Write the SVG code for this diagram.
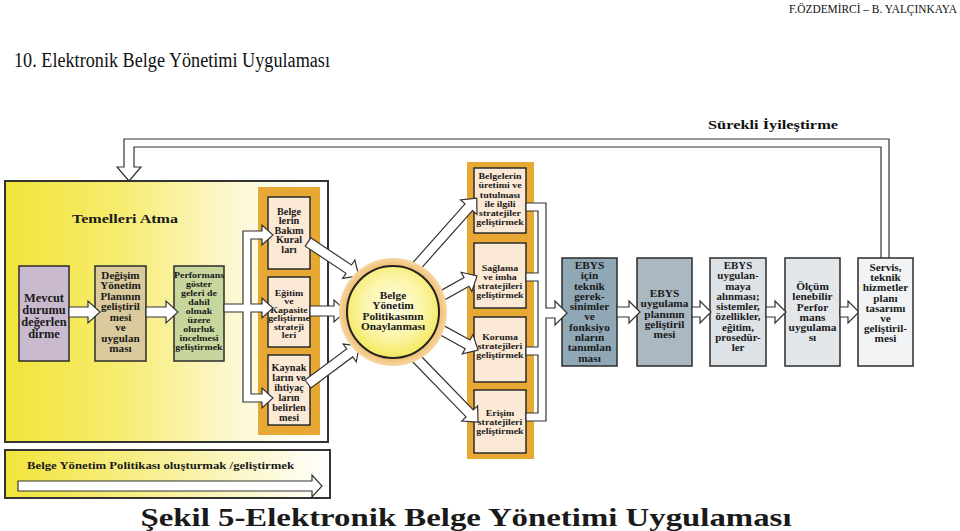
<svg xmlns="http://www.w3.org/2000/svg" width="960" height="531" viewBox="0 0 960 531">
<defs>
<style>
.t{font-family:"Liberation Serif","DejaVu Serif",serif;font-weight:bold;text-anchor:middle;fill:#1a1a1a}
.hd{font-family:"Liberation Serif","DejaVu Serif",serif;fill:#111}
.box{stroke:#2b2b2b;stroke-width:1.5}
.arr{fill:#fff;stroke:#333;stroke-width:1.2;stroke-linejoin:miter}
.col{fill:#e8a834}
.peach{fill:#fbe9d6}
</style>
<linearGradient id="yel" x1="0" y1="0" x2="1" y2="0">
<stop offset="0" stop-color="#f2e43a"/>
<stop offset="0.35" stop-color="#f6ec6e"/>
<stop offset="0.75" stop-color="#fdf9dc"/>
<stop offset="1" stop-color="#ffffff"/>
</linearGradient>
<linearGradient id="yel2" x1="0" y1="0" x2="1" y2="0">
<stop offset="0" stop-color="#f2e43a"/>
<stop offset="0.5" stop-color="#f8f09a"/>
<stop offset="1" stop-color="#ffffff"/>
</linearGradient>
<radialGradient id="circ" cx="0.5" cy="0.45" r="0.55">
<stop offset="0" stop-color="#fffde6"/>
<stop offset="0.6" stop-color="#fbf5a8"/>
<stop offset="1" stop-color="#f3e85e"/>
</radialGradient>
<radialGradient id="halo" cx="0.5" cy="0.5" r="0.5">
<stop offset="0.8" stop-color="#f0b45a"/>
<stop offset="1" stop-color="#f6d7a6"/>
</radialGradient>
</defs>

<rect width="960" height="531" fill="#fff"/>

<!-- headers -->
<text class="hd" x="957" y="13" font-size="11.5" text-anchor="end" textLength="168" lengthAdjust="spacingAndGlyphs">F.ÖZDEMİRCİ – B. YALÇINKAYA</text>
<text class="hd" x="14" y="67" font-size="20" textLength="316" lengthAdjust="spacingAndGlyphs">10. Elektronik Belge Yönetimi Uygulaması</text>
<text class="hd" x="708" y="129" font-size="13" font-weight="bold" textLength="130" lengthAdjust="spacingAndGlyphs">Sürekli İyileştirme</text>

<!-- foundation area -->
<g id="temeller">
<rect x="5" y="181" width="323" height="261" fill="url(#yel)" stroke="#333" stroke-width="2"/>
<text class="t" x="125" y="223" font-size="13" textLength="106" lengthAdjust="spacingAndGlyphs">Temelleri Atma</text>
</g>

<g id="bottom-box">
<rect x="5" y="450" width="325" height="48" fill="url(#yel2)" stroke="#333" stroke-width="2"/>
<text class="t" x="27" y="469" font-size="10" style="text-anchor:start" textLength="267" lengthAdjust="spacingAndGlyphs">Belge Yönetim Politikası oluşturmak /geliştirmek</text>
</g>

<!-- orange columns -->
<rect class="col" x="258" y="187" width="62" height="248"/>
<rect class="col" x="467" y="162" width="67" height="297"/>

<g id="mevcut">
<rect class="box" x="19" y="266" width="50" height="95" fill="#c9bad0"/>
<text class="t" font-size="11.5" transform="matrix(1.08,0,0,1,-3.52,0)"><tspan x="44" y="302">Mevcut</tspan><tspan x="44" y="314">durumu</tspan><tspan x="44" y="326">değerlen</tspan><tspan x="44" y="338">dirme</tspan></text>
</g>
<g id="degisim">
<rect class="box" x="95" y="266" width="51" height="95" fill="#d9c99c"/>
<text class="t" font-size="10.3" transform="matrix(1.08,0,0,1,-9.64,0)"><tspan x="120.5" y="279">Değişim</tspan><tspan x="120.5" y="289.5">Yönetim</tspan><tspan x="120.5" y="300">Planının</tspan><tspan x="120.5" y="310.5">geliştiril</tspan><tspan x="120.5" y="321">mesi</tspan><tspan x="120.5" y="331.5">ve</tspan><tspan x="120.5" y="342">uygulan</tspan><tspan x="120.5" y="352.5">ması</tspan></text>
</g>
<g id="performans">
<rect class="box" x="174" y="266" width="50" height="95" fill="#c6d69c"/>
<text class="t" font-size="9" transform="matrix(1.1,0,0,1,-19.9,0)"><tspan x="199" y="278">Performans</tspan><tspan x="199" y="287">göster</tspan><tspan x="199" y="296">geleri de</tspan><tspan x="199" y="305">dahil</tspan><tspan x="199" y="314">olmak</tspan><tspan x="199" y="323">üzere</tspan><tspan x="199" y="332">olurluk</tspan><tspan x="199" y="341">incelmesi</tspan><tspan x="199" y="350">geliştirmek</tspan></text>
</g>

<g id="bakim">
<rect class="box peach" x="268" y="197" width="42" height="72"/>
<text class="t" font-size="9.5" transform="matrix(1.08,0,0,1,-23.12,0)"><tspan x="289" y="215">Belge</tspan><tspan x="289" y="224.5">lerin</tspan><tspan x="289" y="234">Bakım</tspan><tspan x="289" y="243.5">Kural</tspan><tspan x="289" y="253">ları</tspan></text>
</g>
<g id="egitim">
<rect class="box peach" x="268" y="277" width="42" height="70"/>
<text class="t" font-size="8.6" transform="matrix(1.15,0,0,1,-43.35,0)"><tspan x="289" y="296">Eğitim</tspan><tspan x="289" y="304.5">ve</tspan><tspan x="289" y="313">Kapasite</tspan><tspan x="289" y="321.5">geliştirme</tspan><tspan x="289" y="330">strateji</tspan><tspan x="289" y="338.5">leri</tspan></text>
</g>
<g id="kaynak">
<rect class="box peach" x="268" y="355" width="42" height="70"/>
<text class="t" font-size="9.8" transform="matrix(1.05,0,0,1,-14.45,0)"><tspan x="289" y="371">Kaynak</tspan><tspan x="289" y="381">ların ve</tspan><tspan x="289" y="391">ihtiyaç</tspan><tspan x="289" y="401">ların</tspan><tspan x="289" y="411">belirlen</tspan><tspan x="289" y="421">mesi</tspan></text>
</g>

<g id="uretim">
<rect class="box peach" x="474" y="168" width="52" height="65"/>
<text class="t" font-size="9.2" transform="matrix(1.08,0,0,1,-40,0)"><tspan x="500" y="179">Belgelerin</tspan><tspan x="500" y="188.5">üretimi ve</tspan><tspan x="500" y="198">tutulması</tspan><tspan x="500" y="207">ile ilgili</tspan><tspan x="500" y="216.5">stratejiler</tspan><tspan x="500" y="225.5">geliştirmek</tspan></text>
</g>
<g id="saglama">
<rect class="box peach" x="474" y="243" width="52" height="65"/>
<text class="t" font-size="9" transform="matrix(1.1,0,0,1,-50,0)"><tspan x="500" y="271">Sağlama</tspan><tspan x="500" y="280">ve imha</tspan><tspan x="500" y="289">stratejileri</tspan><tspan x="500" y="298">geliştirmek</tspan></text>
</g>
<g id="koruma">
<rect class="box peach" x="474" y="317" width="52" height="65"/>
<text class="t" font-size="9" transform="matrix(1.1,0,0,1,-50,0)"><tspan x="500" y="340">Koruma</tspan><tspan x="500" y="349">stratejileri</tspan><tspan x="500" y="358">geliştirmek</tspan></text>
</g>
<g id="erisim">
<rect class="box peach" x="474" y="390" width="52" height="63"/>
<text class="t" font-size="9" transform="matrix(1.1,0,0,1,-50,0)"><tspan x="500" y="416">Erişim</tspan><tspan x="500" y="425">stratejileri</tspan><tspan x="500" y="434">geliştirmek</tspan></text>
</g>

<g id="ebys-gereksinim">
<rect class="box" x="562" y="258" width="55" height="108" fill="#90a8b6"/>
<text class="t" font-size="10.3" transform="matrix(1.1,0,0,1,-58.95,0)"><tspan x="589.5" y="269">EBYS</tspan><tspan x="589.5" y="279.3">için</tspan><tspan x="589.5" y="289.6">teknik</tspan><tspan x="589.5" y="299.9">gerek-</tspan><tspan x="589.5" y="310.2">sinimler</tspan><tspan x="589.5" y="320.5">ve</tspan><tspan x="589.5" y="330.8">fonksiyo</tspan><tspan x="589.5" y="341.1">nların</tspan><tspan x="589.5" y="351.4">tanımlan</tspan><tspan x="589.5" y="361.7">ması</tspan></text>
</g>
<g id="ebys-plan">
<rect class="box" x="637" y="258" width="55" height="108" fill="#aab8c1"/>
<text class="t" font-size="10.3" transform="matrix(1.1,0,0,1,-66.45,0)"><tspan x="664.5" y="297">EBYS</tspan><tspan x="664.5" y="307.3">uygulama</tspan><tspan x="664.5" y="317.6">planının</tspan><tspan x="664.5" y="327.9">geliştiril</tspan><tspan x="664.5" y="338.2">mesi</tspan></text>
</g>
<g id="ebys-uygulama">
<rect class="box" x="710" y="258" width="56" height="108" fill="#dde2e6"/>
<text class="t" font-size="10.3" transform="matrix(1.06,0,0,1,-44.28,0)"><tspan x="738" y="269">EBYS</tspan><tspan x="738" y="279.3">uygulan-</tspan><tspan x="738" y="289.6">maya</tspan><tspan x="738" y="299.9">alınması;</tspan><tspan x="738" y="310.2">sistemler,</tspan><tspan x="738" y="320.5">özellikler,</tspan><tspan x="738" y="330.8">eğitim,</tspan><tspan x="738" y="341.1">prosedür-</tspan><tspan x="738" y="351.4">ler</tspan></text>
</g>
<g id="olcum">
<rect class="box" x="785" y="258" width="55" height="108" fill="#e3e7ea"/>
<text class="t" font-size="10.3" transform="matrix(1.1,0,0,1,-81.25,0)"><tspan x="812.5" y="290">Ölçüm</tspan><tspan x="812.5" y="300.3">lenebilir</tspan><tspan x="812.5" y="310.6">Perfor</tspan><tspan x="812.5" y="320.9">mans</tspan><tspan x="812.5" y="331.2">uygulama</tspan><tspan x="812.5" y="341.5">sı</tspan></text>
</g>

<!-- connectors -->
<g id="connectors">
<path class="arr" d="M881,258 V147 H134 V167 H141 L129,181 L117,167 H124 V139 H889 V258"/>
<path class="arr" d="M0,-5 H19 V-11 L31,0 L19,11 V5 H0 Z" transform="translate(69,312)"/>
<path class="arr" d="M0,-5 H20 V-11 L32,0 L20,11 V5 H0 Z" transform="translate(146,312)"/>
<path class="arr" d="M224,304 H243 V231 H262 V225 L273,235 L262,245 V239 H251 V304 H262 V298 L273,308 L262,318 V312 H251 V394 H262 V388 L273,398 L262,408 V402 H243 V312 H224 Z"/>
<path class="arr" d="M0,-5 H49 V-11 L61,0 L49,11 V5 H0 Z" transform="translate(308,242) rotate(33.7)"/>
<path class="arr" d="M0,-5 H24 V-11 L36,0 L24,11 V5 H0 Z" transform="translate(310,311)"/>
<path class="arr" d="M0,-5 H52 V-11 L64,0 L52,11 V5 H0 Z" transform="translate(308,384) rotate(-36.7)"/>
<path class="arr" d="M0,-5 H84 V-11 L96,0 L84,11 V5 H0 Z" transform="translate(413,270) rotate(-48.4)"/>
<path class="arr" d="M0,-5 H35 V-11 L47,0 L35,11 V5 H0 Z" transform="translate(436,299) rotate(-29.3)"/>
<path class="arr" d="M0,-5 H36 V-11 L48,0 L36,11 V5 H0 Z" transform="translate(436,327) rotate(28.7)"/>
<path class="arr" d="M0,-5 H80 V-11 L92,0 L80,11 V5 H0 Z" transform="translate(414,356) rotate(45.9)"/>
<path class="arr" d="M526,203 H546 V308 H555 V301 L567,313 L555,325 V318 H546 V421 H526 V413 H538 V355 H526 V347 H538 V281 H526 V273 H538 V211 H526 Z"/>
<path class="arr" d="M0,-5 H12 V-11 L23,0 L12,11 V5 H0 Z" transform="translate(617,312)"/>
<path class="arr" d="M0,-5 H8 V-11 L19,0 L8,11 V5 H0 Z" transform="translate(692,312)"/>
<path class="arr" d="M0,-5 H9 V-11 L20,0 L9,11 V5 H0 Z" transform="translate(766,312)"/>
<path class="arr" d="M0,-5 H8 V-11 L19,0 L8,11 V5 H0 Z" transform="translate(840,312)"/>
<path class="arr" d="M0,-5 H294 V-11 L304,0 L294,11 V5 H0 Z" transform="translate(18,486)"/>
</g>

<g id="servis">
<rect class="box" x="858" y="258" width="55" height="108" fill="#f1f3f5"/>
<text class="t" font-size="10.2" transform="matrix(1.1,0,0,1,-88.55,0)"><tspan x="885.5" y="271">Servis,</tspan><tspan x="885.5" y="281.2">teknik</tspan><tspan x="885.5" y="291.4">hizmetler</tspan><tspan x="885.5" y="301.6">planı</tspan><tspan x="885.5" y="311.8">tasarımı</tspan><tspan x="885.5" y="322">ve</tspan><tspan x="885.5" y="332.2">geliştiril-</tspan><tspan x="885.5" y="342.4">mesi</tspan></text>
</g>

<g id="politika">
<circle cx="393" cy="312" r="54" fill="url(#halo)"/>
<circle cx="393" cy="312" r="46" fill="url(#circ)" stroke="#222" stroke-width="2"/>
<text class="t" font-size="10.5" transform="matrix(1.08,0,0,1,-31.44,0)"><tspan x="393" y="299">Belge</tspan><tspan x="393" y="309.5">Yönetim</tspan><tspan x="393" y="320">Politikasının</tspan><tspan x="393" y="330.5">Onaylanması</tspan></text>
</g>

<text class="t" x="466" y="526" font-size="26" textLength="651" lengthAdjust="spacingAndGlyphs">Şekil 5-Elektronik Belge Yönetimi Uygulaması</text>
</svg>
